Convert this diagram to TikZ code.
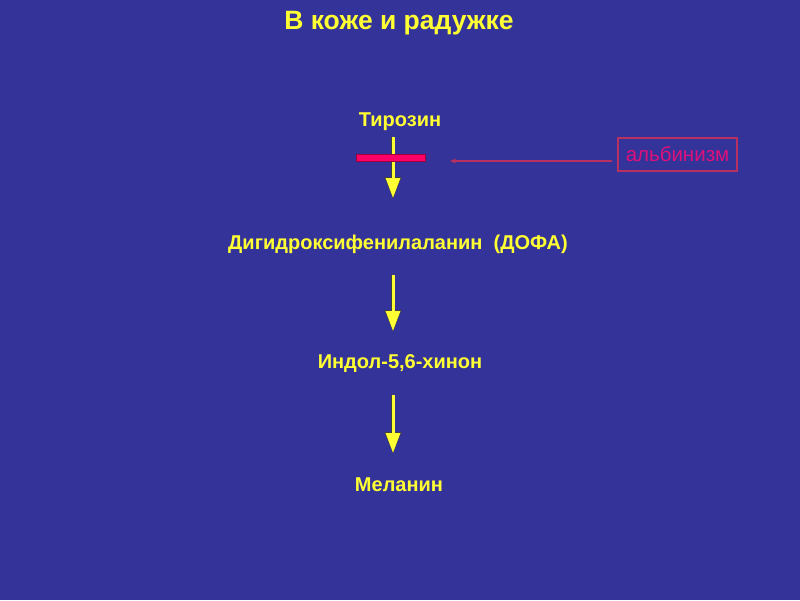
\documentclass[tikz,border=0pt]{standalone}
\usepackage{fontspec}
\setmainfont{Liberation Sans}
\usetikzlibrary{arrows.meta}
\definecolor{bg}{HTML}{333399}
\definecolor{yel}{HTML}{FFFF33}
\definecolor{barred}{HTML}{FF0066}
\definecolor{pinktxt}{HTML}{E0107A}
\definecolor{boxred}{HTML}{B83060}
\tikzset{
  lbl/.style={text=yel, font=\bfseries\fontsize{20}{22}\selectfont, inner sep=0pt},
  flow/.style={draw=yel, line width=3pt, -{Triangle[width=14pt,length=20pt,fill=yel]},
    preaction={draw=black!75, line width=4.2pt, -{Triangle[width=16pt,length=22pt]}, shorten >=-1pt}},
}
\begin{document}
\begin{tikzpicture}[x=1pt,y=-1pt]
\useasboundingbox (0,0) rectangle (800,600);
\fill[bg] (0,0) rectangle (800,600);
\node[text=yel, font=\bfseries\fontsize{26.5}{30}\selectfont, inner sep=0pt] (title) at (399,23) {В коже и радужке};
\node[lbl] (tyr) at (400,122) {Тирозин};
\node[lbl] (dopa) at (398,244) {Дигидроксифенилаланин\ \ (ДОФА)};
\node[lbl] (indol) at (400,364) {Индол-5,6-хинон};
\node[lbl] (mel) at (399,485) {Меланин};
\coordinate (a1s) at (393,137);
\coordinate (a1e) at (393,198);
\coordinate (a2s) at (393,275);
\coordinate (a2e) at (393,331);
\coordinate (a3s) at (393,395);
\coordinate (a3e) at (393,453);
\draw[flow] (a1s) -- (a1e);
\draw[flow] (a2s) -- (a2e);
\draw[flow] (a3s) -- (a3e);
\node[draw=barred!60!black, fill=barred, minimum width=69pt, minimum height=7pt, inner sep=0pt, line width=0.8pt] (bar) at (390.5,158) {};
\node[draw=boxred, line width=1.6pt, text=pinktxt, font=\fontsize{20.5}{22}\selectfont, minimum width=119pt, minimum height=33pt, inner sep=0pt] (alb) at (677.5,154.5) {альбинизм};
\coordinate (tip) at (450,161);
\draw[boxred, line width=1.1pt, -{Stealth[length=6pt,width=5pt]}] (612,161) -- (tip);
\end{tikzpicture}
\end{document}
